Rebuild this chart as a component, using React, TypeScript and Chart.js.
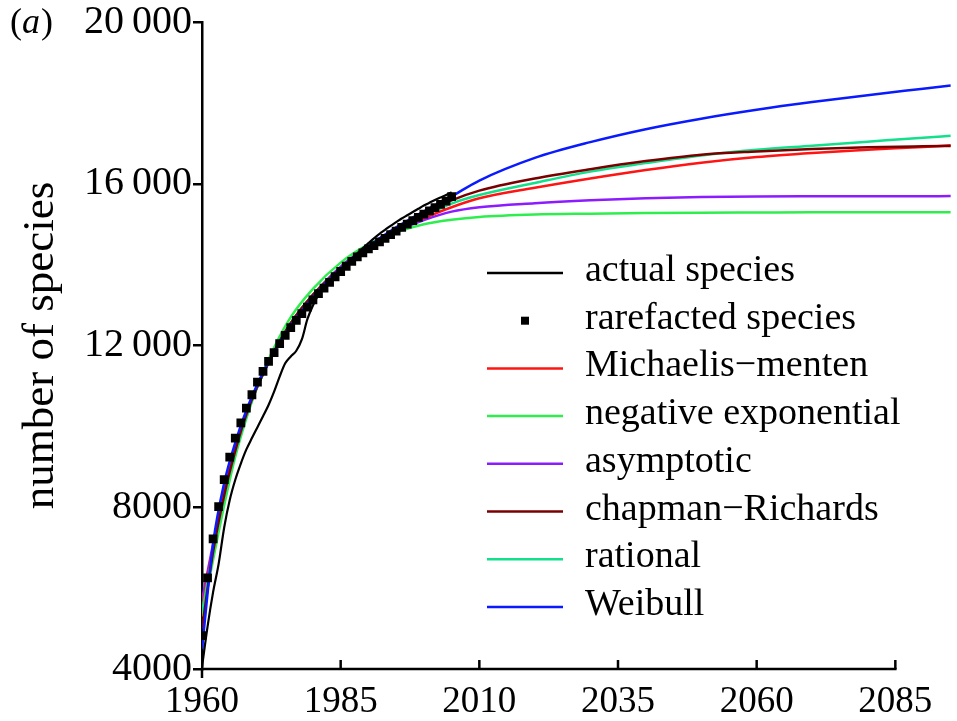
import React, { useEffect, useRef } from "react";
import { Chart, registerables } from "chart.js";

Chart.register(...registerables);

const FONT = "'Liberation Serif', 'Times New Roman', serif";

// Observed years (1960–2005)
const OBS_YEARS = [
  1960, 1961, 1962, 1963, 1964, 1965, 1966, 1967, 1968, 1969,
  1970, 1971, 1972, 1973, 1974, 1975, 1976, 1977, 1978, 1979,
  1980, 1981, 1982, 1983, 1984, 1985, 1986, 1987, 1988, 1989,
  1990, 1991, 1992, 1993, 1994, 1995, 1996, 1997, 1998, 1999,
  2000, 2001, 2002, 2003, 2004, 2005,
];

const ACTUAL_SPECIES = [
  4050, 5050, 5900, 6600, 7500, 8180, 8680, 9080, 9430, 9710,
  9980, 10250, 10530, 10860, 11230, 11560, 11730, 11870, 12150, 12650,
  12990, 13250, 13420, 13570, 13720, 13860, 14000, 14140, 14280, 14410,
  14530, 14650, 14760, 14860, 14960, 15050, 15140, 15220, 15300, 15380,
  15460, 15530, 15600, 15660, 15720, 15790,
];

const RAREFACTED_SPECIES = [
  4824, 6252, 7218, 8017, 8685, 9237, 9707, 10089, 10450, 10782,
  11093, 11358, 11606, 11821, 12044, 12249, 12440, 12620, 12786, 12950,
  13130, 13280, 13420, 13560, 13700, 13830, 13960, 14080, 14190, 14290,
  14390, 14470, 14560, 14650, 14740, 14830, 14920, 15000, 15090, 15170,
  15250, 15330, 15410, 15490, 15570, 15680,
];

// Fitted model curves
const FIT_YEARS = [
  1960, 1962, 1964, 1966, 1968, 1970, 1973, 1976, 1980, 1985, 1990, 1995,
  2000, 2005, 2010, 2020, 2030, 2040, 2050, 2060, 2070, 2080, 2090, 2095,
];

const MICHAELIS_MENTEN = [
  5500, 7000, 8300, 9400, 10300, 11000, 11850, 12550, 13250, 13900, 14420, 14850,
  15150, 15420, 15640, 15900, 16130, 16340, 16520, 16660, 16760, 16840, 16910, 16950,
];

const NEGATIVE_EXPONENTIAL = [
  5300, 6700, 8050, 9250, 10200, 11000, 11950, 12700, 13400, 14050, 14500, 14800,
  15000, 15110, 15180, 15240, 15260, 15275, 15285, 15290, 15295, 15297, 15298, 15298,
];

const ASYMPTOTIC = [
  5700, 7100, 8400, 9450, 10300, 11000, 11850, 12550, 13250, 13950, 14450, 14820,
  15100, 15310, 15420, 15520, 15590, 15640, 15670, 15685, 15690, 15692, 15693, 15694,
];

const CHAPMAN_RICHARDS = [
  5000, 6900, 8300, 9400, 10300, 11000, 11850, 12550, 13250, 13920, 14450, 14900,
  15270, 15590, 15830, 16130, 16360, 16560, 16720, 16800, 16860, 16900, 16925, 16935,
];

const RATIONAL = [
  5400, 6900, 8250, 9350, 10250, 10980, 11850, 12550, 13250, 13920, 14430, 14870,
  15200, 15510, 15720, 16020, 16300, 16510, 16700, 16840, 16940, 17040, 17140, 17185,
];

const WEIBULL = [
  4500, 7100, 8600, 9600, 10400, 11050, 11850, 12500, 13200, 13900, 14450, 14920,
  15320, 15690, 16080, 16640, 17030, 17350, 17610, 17830, 18020, 18190, 18350, 18430,
];

const X_TICKS = [1960, 1985, 2010, 2035, 2060, 2085];
const Y_TICKS = [4000, 8000, 12000, 16000, 20000];

const LEGEND_ORDER = [
  "actual species",
  "rarefacted species",
  "Michaelis\u2212menten",
  "negative exponential",
  "asymptotic",
  "chapman\u2212Richards",
  "rational",
  "Weibull",
];

const fmtY = (v: number) => {
  const s = String(v);
  return v >= 10000 ? s.slice(0, s.length - 3) + "\u2009" + s.slice(-3) : s;
};

const axesPlugin = {
  id: "customAxes",
  afterDraw(chart: any) {
    const ctx = chart.ctx;
    const xs = chart.scales.x;
    const ys = chart.scales.y;
    const bottom = ys.getPixelForValue(Y_TICKS[0]);
    ctx.save();
    ctx.strokeStyle = "#000";
    ctx.lineWidth = 2.5;
    ctx.lineCap = "butt";
    // x axis line from first to last tick
    const x0 = xs.getPixelForValue(X_TICKS[0]) - 1.25;
    const x1 = xs.getPixelForValue(X_TICKS[X_TICKS.length - 1]) + 1.25;
    ctx.beginPath();
    ctx.moveTo(x0, bottom);
    ctx.lineTo(x1, bottom);
    ctx.stroke();
    // x tick marks (inside) and the origin tick (down)
    X_TICKS.forEach((t, i) => {
      const px = xs.getPixelForValue(t);
      ctx.beginPath();
      if (i === 0) {
        ctx.moveTo(px, bottom);
        ctx.lineTo(px, bottom + 9);
      } else {
        ctx.moveTo(px, bottom);
        ctx.lineTo(px, bottom - 9);
      }
      ctx.stroke();
    });
    // panel label "(a)"
    ctx.fillStyle = "#000";
    ctx.textBaseline = "alphabetic";
    let lx = 10;
    const ly = 33;
    ctx.font = `36px ${FONT}`;
    ctx.fillText("(", lx, ly);
    lx += ctx.measureText("(").width;
    ctx.font = `italic 36px ${FONT}`;
    ctx.fillText("a", lx, ly);
    lx += ctx.measureText("a").width + 1;
    ctx.font = `36px ${FONT}`;
    ctx.fillText(")", lx, ly);
    ctx.restore();
  },
};

const legendPlugin = {
  id: "insideLegend",
  afterDraw(chart: any, _args: any, opts: any) {
    const ctx = chart.ctx;
    ctx.save();
    ctx.font = `${opts.fontSize}px ${FONT}`;
    ctx.textBaseline = "alphabetic";
    LEGEND_ORDER.forEach((label, i) => {
      const ds = chart.data.datasets.find((d: any) => d.label === label);
      if (!ds) return;
      const y = opts.top + i * opts.rowGap;
      if (ds.showLine === false) {
        ctx.fillStyle = "#000";
        const s = opts.markerSize;
        const cx = (opts.lineStart + opts.lineEnd) / 2;
        ctx.fillRect(cx - s / 2, y - s / 2, s, s);
      } else {
        ctx.strokeStyle = ds.borderColor;
        ctx.lineWidth = 2.5;
        ctx.beginPath();
        ctx.moveTo(opts.lineStart, y);
        ctx.lineTo(opts.lineEnd, y);
        ctx.stroke();
      }
      ctx.fillStyle = "#000";
      ctx.fillText(label, opts.textX, y + opts.baselineOffset);
    });
    ctx.restore();
  },
};

function fitSeries(label: string, color: string, values: number[], order: number) {
  return {
    label,
    data: FIT_YEARS.map((x, i) => ({ x, y: values[i] })),
    borderColor: color,
    backgroundColor: color,
    borderWidth: 2.5,
    pointRadius: 0,
    fill: false,
    cubicInterpolationMode: "monotone" as const,
    order,
  };
}

export default function App() {
  const canvasRef = useRef<HTMLCanvasElement | null>(null);

  useEffect(() => {
    if (!canvasRef.current) return;
    const chart = new Chart(canvasRef.current, {
      type: "line",
      data: {
        datasets: [
          {
            label: "rarefacted species",
            data: OBS_YEARS.map((x, i) => ({ x, y: RAREFACTED_SPECIES[i] })),
            showLine: false,
            pointStyle: "rect",
            pointRadius: 6.2,
            pointBorderWidth: 0,
            pointBackgroundColor: "#000",
            borderColor: "#000",
            backgroundColor: "#000",
            order: 0,
          },
          {
            label: "actual species",
            data: OBS_YEARS.map((x, i) => ({ x, y: ACTUAL_SPECIES[i] })),
            borderColor: "#000",
            backgroundColor: "#000",
            borderWidth: 2.2,
            pointRadius: 0,
            fill: false,
            cubicInterpolationMode: "monotone",
            order: 1,
          },
          fitSeries("Weibull", "#0a1aff", WEIBULL, 2),
          fitSeries("chapman\u2212Richards", "#7a0000", CHAPMAN_RICHARDS, 3),
          fitSeries("rational", "#12e08c", RATIONAL, 4),
          fitSeries("Michaelis\u2212menten", "#ff1414", MICHAELIS_MENTEN, 5),
          fitSeries("asymptotic", "#8c1cff", ASYMPTOTIC, 6),
          fitSeries("negative exponential", "#2eee4e", NEGATIVE_EXPONENTIAL, 7),
        ],
      },
      options: {
        animation: false,
        responsive: true,
        maintainAspectRatio: false,
        layout: { padding: { top: 22, left: 0, right: 0, bottom: 0 } },
        plugins: {
          legend: { display: false },
          tooltip: { enabled: false },
          insideLegend: {
            top: 273,
            rowGap: 47.7,
            lineStart: 487,
            lineEnd: 563,
            textX: 585,
            baselineOffset: 8,
            fontSize: 38,
            markerSize: 8,
          },
        } as any,
        scales: {
          x: {
            type: "linear",
            min: 1960,
            max: 2095,
            afterBuildTicks: (scale: any) => {
              scale.ticks = X_TICKS.map((v) => ({ value: v }));
            },
            afterFit: (scale: any) => {
              scale.height = 52;
            },
            border: { display: false },
            grid: { display: false },
            ticks: {
              padding: 3,
              color: "#000",
              font: { family: FONT, size: 37 },
              maxRotation: 0,
              autoSkip: false,
              callback: (v: any) => String(v),
            },
          },
          y: {
            type: "linear",
            min: 4000,
            max: 20000,
            afterBuildTicks: (scale: any) => {
              scale.ticks = Y_TICKS.map((v) => ({ value: v }));
            },
            afterFit: (scale: any) => {
              scale.width = 202;
            },
            border: { display: true, color: "#000", width: 2.5 },
            grid: {
              display: true,
              drawOnChartArea: false,
              drawTicks: true,
              tickLength: 9,
              color: "#000",
              lineWidth: 2.5,
            },
            ticks: {
              padding: 1,
              color: "#000",
              font: { family: FONT, size: 40, lineHeight: 1 },
              autoSkip: false,
              callback: (v: any) => fmtY(Number(v)),
            },
            title: {
              display: true,
              text: "number of species",
              color: "#000",
              font: { family: FONT, size: 45 },
              padding: { top: 14, bottom: 0 },
            },
          },
        },
      },
      plugins: [axesPlugin, legendPlugin],
    });
    return () => chart.destroy();
  }, []);

  return (
    <div
      style={{
        position: "fixed",
        left: 0,
        top: 0,
        width: 957,
        height: 721,
        background: "#fff",
      }}
    >
      <canvas ref={canvasRef} />
    </div>
  );
}
